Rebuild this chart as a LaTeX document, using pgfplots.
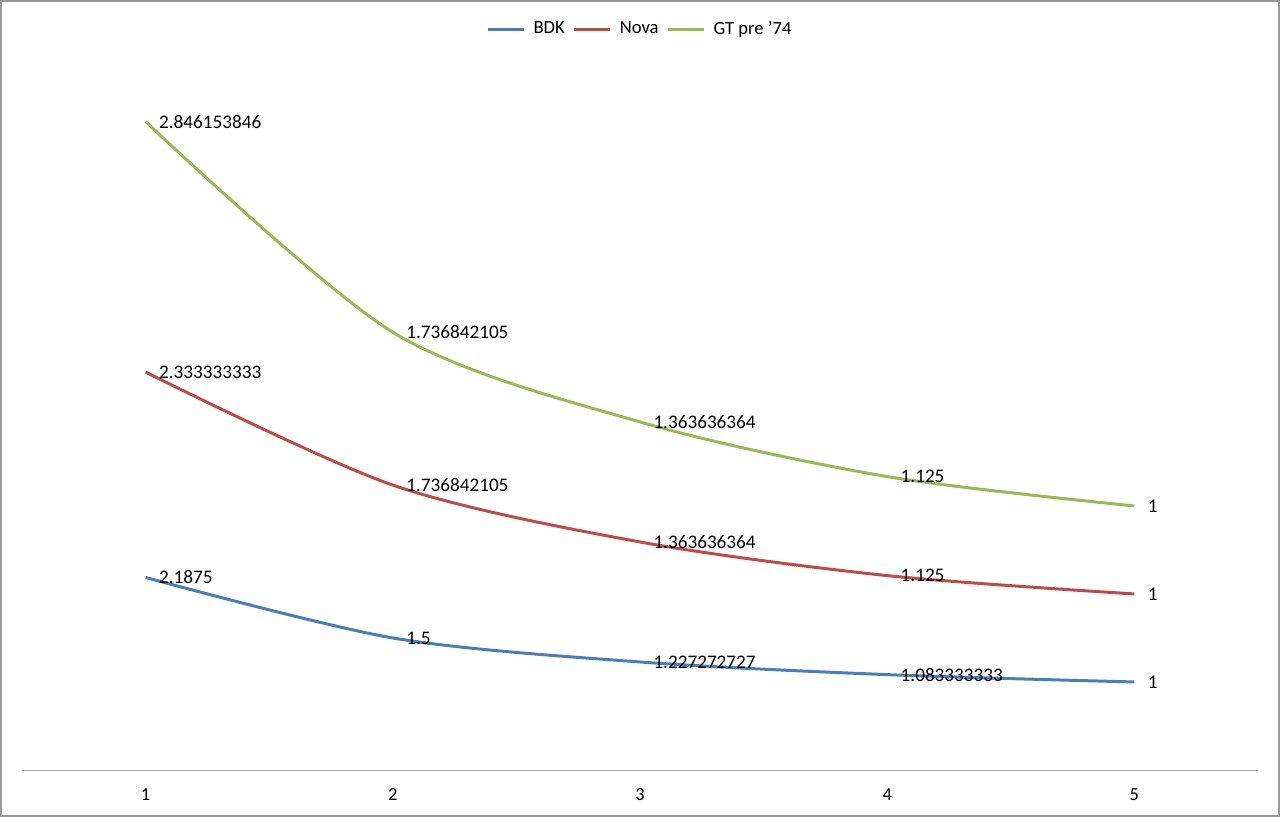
\documentclass[border=0pt]{standalone}
\usepackage{pgfplots}
\pgfplotsset{compat=1.18}
\usepackage{fontspec}
\setmainfont{Carlito}
\usetikzlibrary{calc}

\definecolor{bdk}{HTML}{4A7EBB}
\definecolor{nova}{HTML}{BE4B48}
\definecolor{gtpre}{HTML}{98B954}

\begin{document}
\begin{tikzpicture}
\begin{axis}[
    scale only axis,
    width=618pt, height=360pt,
    xmin=0.5, xmax=5.5,
    ymin=0, ymax=8.18,
    axis x line=bottom,
    axis y line=none,
    axis line style={gray!70, -},
    xtick={1,2,3,4,5},
    major tick length=0pt,
    xticklabel style={font=\fontsize{9.2}{10}\selectfont, yshift=-6pt},
    /pgf/number format/assume math mode=true,
    stack plots=y,
    point meta=explicit symbolic,
    nodes near coords={\pgfplotspointmeta},
    nodes near coords style={anchor=west, xshift=5pt, font=\fontsize{9.6}{11}\selectfont, text=black, inner sep=1pt},
    every axis plot/.append style={line width=1.5pt, smooth, no markers},
    legend style={at={(0.5,1)}, anchor=south, yshift=3pt, draw=none,
        font=\fontsize{9.3}{10}\selectfont, column sep=3pt,
        nodes={inner sep=1pt}},
    legend columns=-1,
    legend image code/.code={\draw[#1, line width=1.5pt] (0,0) -- (18pt,0);},
    clip=false,
]
\addplot[bdk] coordinates {
    (1,2.1875) [2.1875]
    (2,1.5) [1.5]
    (3,1.227272727) [1.227272727]
    (4,1.083333333) [1.083333333]
    (5,1) [1]
};
\addplot[nova] coordinates {
    (1,2.333333333) [2.333333333]
    (2,1.736842105) [1.736842105]
    (3,1.363636364) [1.363636364]
    (4,1.125) [1.125]
    (5,1) [1]
};
\addplot[gtpre] coordinates {
    (1,2.846153846) [2.846153846]
    (2,1.736842105) [1.736842105]
    (3,1.363636364) [1.363636364]
    (4,1.125) [1.125]
    (5,1) [1]
};
\legend{BDK, Nova, GT pre '74}
\coordinate (sw) at (rel axis cs:0,0);
\coordinate (ne) at (rel axis cs:1,1);
\end{axis}
\draw[gray!80, line width=1pt] ($(sw)+(-10.5pt,-23pt)$) rectangle ($(ne)+(10.5pt,24.5pt)$);
\end{tikzpicture}
\end{document}
